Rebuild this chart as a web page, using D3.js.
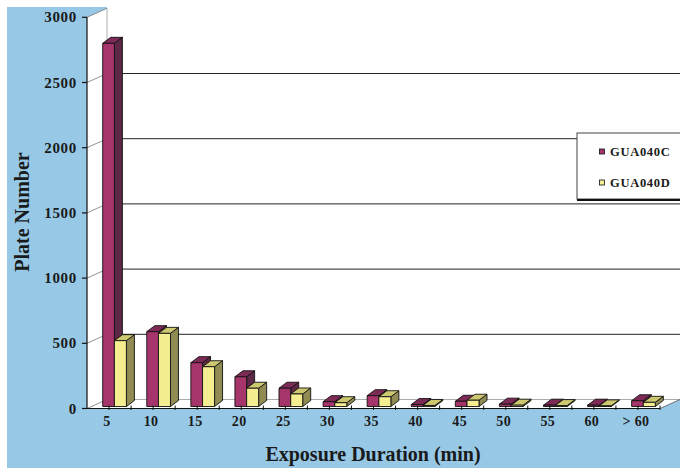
<!DOCTYPE html>
<html><head><meta charset="utf-8">
<script src="https://cdn.jsdelivr.net/npm/d3@7/dist/d3.min.js"></script>
<style>body{margin:0;background:#fff}svg{display:block}</style>
</head><body><div id="c"></div>
<script>
const categories = ["5","10","15","20","25","30","35","40","45","50","55","60","> 60"];
const seriesC = [2785,574,336,228,140,37,83,15,40,18,10,10,44];
const seriesD = [505,561,305,140,96,29,75,8,48,10,7,5,32];
const seriesNames = ["GUA040C","GUA040D"];
const yTicks = [0,500,1000,1500,2000,2500,3000];

const W=680,H=468;
const svg=d3.select("#c").append("svg").attr("width",W).attr("height",H);
const x=d3.scaleBand().domain(categories).range([87,660]).padding(0);
const y=d3.scaleLinear().domain([0,3000]).range([408.5,17.3]);
const WDX=20, WDY=-9; // wall depth
const x0=87, x1=660;

// backgrounds
svg.append("rect").attr("x",7).attr("y",7).attr("width",W-7).attr("height",H-7).attr("fill","#97c9e7");
svg.append("rect").attr("x",x0+WDX).attr("y",0).attr("width",W-x0-WDX).attr("height",y(0)+WDY).attr("fill","#fff");
const poly=pts=>pts.map(p=>p.join(",")).join(" ");
svg.append("polygon").attr("points",poly([[x0,y(3000)],[x0+WDX,y(3000)+WDY],[x0+WDX,y(0)+WDY],[x0,y(0)]])).attr("fill","#fff");
svg.append("polygon").attr("points",poly([[x0,y(0)],[x0+WDX,y(0)+WDY],[x1+WDX,y(0)+WDY],[x1,y(0)]])).attr("fill","#fff");
svg.append("line").attr("x1",x0+WDX).attr("x2",x0+WDX).attr("y1",y(3000)+WDY).attr("y2",y(0)+WDY).attr("stroke","#999").attr("stroke-width",0.8);

// gridlines on back wall and depth ticks
yTicks.forEach(t=>{
  const yy=y(t);
  if(t>0 && t<3000) svg.append("line").attr("x1",x0+WDX).attr("x2",W).attr("y1",yy+WDY).attr("y2",yy+WDY).attr("stroke","#222").attr("stroke-width",1);
  if(t===0) svg.append("line").attr("x1",x0+WDX).attr("x2",x1+WDX).attr("y1",yy+WDY).attr("y2",yy+WDY).attr("stroke","#999").attr("stroke-width",0.8);
  svg.append("line").attr("x1",x0).attr("y1",yy).attr("x2",x0+WDX).attr("y2",yy+WDY).attr("stroke","#777").attr("stroke-width",0.8);
  svg.append("line").attr("x1",x0-5).attr("x2",x0).attr("y1",yy).attr("y2",yy).attr("stroke","#111").attr("stroke-width",1.2);
  svg.append("text").attr("x",77).attr("y",yy+5).attr("text-anchor","end")
    .attr("font-family","Liberation Serif").attr("font-weight","bold").attr("font-size",15)
    .attr("letter-spacing",0.7).attr("fill","#1a1a1a").text(t);
});

// bars
const BDX=8, BDY=-6, base=406.5;
const k=(y(0)-y(3000))/3000;
function bar3d(cx,w,v,cFront,cTop,cSide){
  const top=base-v*k;
  const g=svg.append("g").attr("stroke","#111").attr("stroke-width",0.9).attr("stroke-linejoin","round");
  g.append("polygon").attr("points",poly([[cx+w,top],[cx+w+BDX,top+BDY],[cx+w+BDX,base+BDY],[cx+w,base]])).attr("fill",cSide);
  g.append("polygon").attr("points",poly([[cx,top],[cx+BDX,top+BDY],[cx+w+BDX,top+BDY],[cx+w,top]])).attr("fill",cTop);
  g.append("rect").attr("x",cx).attr("y",top).attr("width",w).attr("height",base-top).attr("fill",cFront);
}
categories.forEach((c,i)=>{
  const b=x(c);
  bar3d(b+15.7,11.7,seriesC[i],"#a6356b","#7d2a56","#5c2845");
  bar3d(b+27.4,12,seriesD[i],"#f4ee91","#cdc86f","#8f8b53");
});

// front axes
svg.append("line").attr("x1",x0).attr("x2",x0).attr("y1",y(3000)).attr("y2",y(0)).attr("stroke","#111").attr("stroke-width",1.2);
svg.append("line").attr("x1",x0).attr("x2",x1).attr("y1",y(0)).attr("y2",y(0)).attr("stroke","#111").attr("stroke-width",1.2);
svg.append("line").attr("x1",x1).attr("y1",y(0)).attr("x2",x1+WDX).attr("y2",y(0)+WDY).attr("stroke","#555").attr("stroke-width",0.8);
categories.forEach((c,i)=>{
  const b=x(c), m=b+x.bandwidth()/2;
  [m,b+x.bandwidth()].forEach(tx=>svg.append("line").attr("x1",tx).attr("x2",tx).attr("y1",y(0)-3).attr("y2",y(0)+1.5).attr("stroke","#111"));
  svg.append("text").attr("x",m-2).attr("y",426).attr("text-anchor","middle")
    .attr("font-family","Liberation Serif").attr("font-weight","bold").attr("font-size",14)
    .attr("letter-spacing",0.4).attr("fill","#1a1a1a").text(c);
});

// axis titles
svg.append("text").attr("x",373).attr("y",461).attr("text-anchor","middle")
  .attr("font-family","Liberation Serif").attr("font-weight","bold").attr("font-size",20).attr("fill","#1a1a1a")
  .text("Exposure Duration (min)");
svg.append("text").attr("transform","translate(29,212) rotate(-90)").attr("text-anchor","middle")
  .attr("font-family","Liberation Serif").attr("font-weight","bold").attr("font-size",20).attr("fill","#1a1a1a")
  .text("Plate Number");

// legend
const lg=svg.append("g");
lg.append("rect").attr("x",577).attr("y",133).attr("width",110).attr("height",66).attr("fill","#fff").attr("stroke","#444").attr("stroke-width",1);
lg.append("line").attr("x1",577).attr("x2",W).attr("y1",200).attr("y2",200).attr("stroke","#111").attr("stroke-width",2);
const legColors=["#a6356b","#f4ee91"];
seriesNames.forEach((n,i)=>{
  const ly=152+i*31;
  lg.append("rect").attr("x",599.5).attr("y",ly-3).attr("width",5).attr("height",5).attr("fill",legColors[i]).attr("stroke","#111").attr("stroke-width",0.8);
  lg.append("text").attr("x",610).attr("y",ly+4).attr("font-family","Liberation Serif").attr("font-weight","bold")
    .attr("font-size",12.5).attr("letter-spacing",0.7).attr("fill","#1a1a1a").text(n);
});
</script></body></html>
